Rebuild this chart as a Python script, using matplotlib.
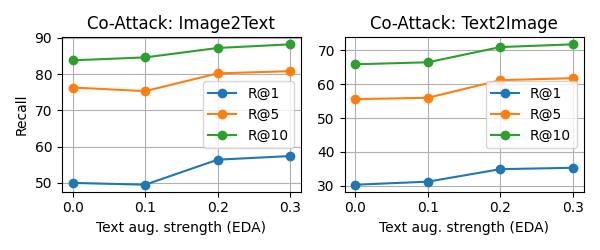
import matplotlib
matplotlib.use('Agg')
import matplotlib.pyplot as plt

strength = [0.0, 0.1, 0.2, 0.3]
labels = ['R@1', 'R@5', 'R@10']

# Image2Text recall
i2t_r1 = [50.0, 49.5, 56.4, 57.4]
i2t_r5 = [76.3, 75.3, 80.2, 80.8]
i2t_r10 = [83.8, 84.6, 87.2, 88.2]

# Text2Image recall
t2i_r1 = [30.3, 31.2, 34.9, 35.3]
t2i_r5 = [55.6, 56.0, 61.2, 61.8]
t2i_r10 = [65.9, 66.5, 71.0, 71.8]


def main():
    fig, axes = plt.subplots(1, 2, figsize=(6, 2.5), dpi=100)

    ax = axes[0]
    for vals, lab in zip([i2t_r1, i2t_r5, i2t_r10], labels):
        ax.plot(strength, vals, marker='o', label=lab)
    ax.set_title('Co-Attack: Image2Text')
    ax.set_xlabel('Text aug. strength (EDA)')
    ax.set_ylabel('Recall')
    ax.set_xticks(strength)
    ax.grid(True)
    ax.legend(loc='center right')

    ax = axes[1]
    for vals, lab in zip([t2i_r1, t2i_r5, t2i_r10], labels):
        ax.plot(strength, vals, marker='o', label=lab)
    ax.set_title('Co-Attack: Text2Image')
    ax.set_xlabel('Text aug. strength (EDA)')
    ax.set_xticks(strength)
    ax.grid(True)
    ax.legend(loc='center right')

    plt.tight_layout()
    plt.savefig('out.png')


if __name__ == "__main__":
    main()
